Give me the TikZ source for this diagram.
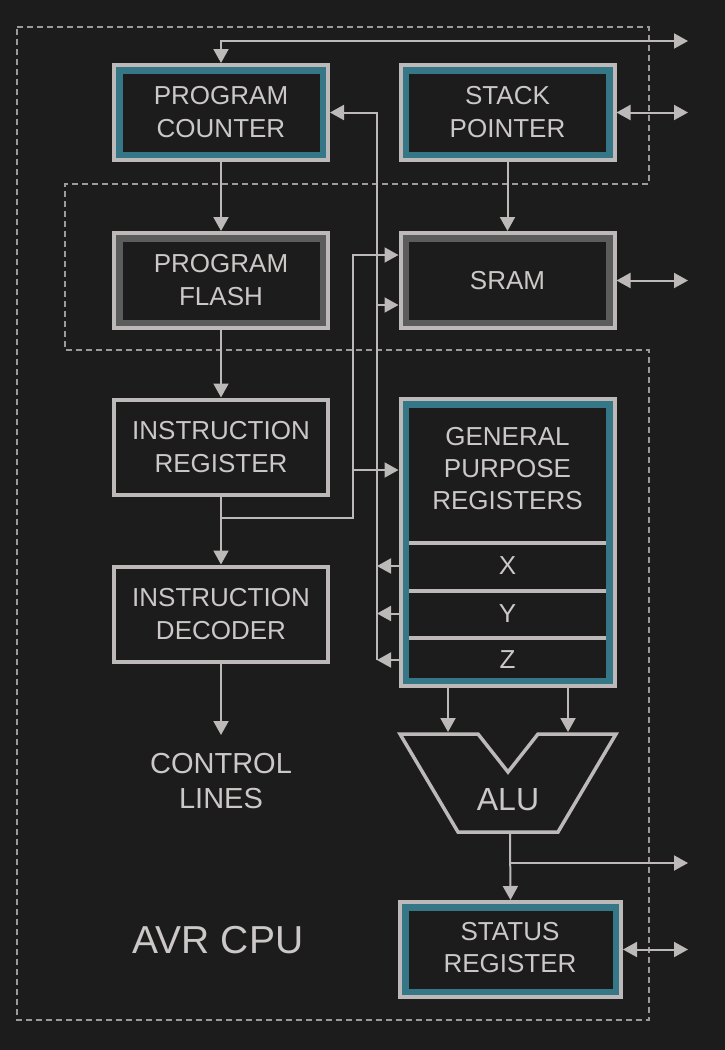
\documentclass[tikz,border=0pt]{standalone}
\usepackage{fontspec}
\setmainfont{Liberation Sans}
\usetikzlibrary{arrows.meta}
\definecolor{bg}{HTML}{1C1C1C}
\definecolor{lgray}{HTML}{BDB9B9}
\definecolor{label}{HTML}{CCC8C8}
\definecolor{regteal}{HTML}{357687}
\definecolor{memgray}{HTML}{5C5C5C}
\definecolor{framegray}{HTML}{9E9A9A}

\begin{document}
\begin{tikzpicture}[x=1pt, y=-1pt,
    box/.style={draw=lgray, line width=4pt, fill=bg, minimum width=214pt, minimum height=95pt,
        inner sep=0pt, text=label, align=center, font=\fontsize{26}{33}\selectfont},
    inset/.style={box, fill=#1, path picture={\fill[bg]
        ([shift={(8.5pt,-8.5pt)}]path picture bounding box.north west) rectangle
        ([shift={(-8.5pt,8.5pt)}]path picture bounding box.south east);}},
    lbl/.style={text=label, align=center, inner sep=0pt, font=\fontsize{26}{32}\selectfont},
    wire/.style={draw=lgray, line width=2pt},
    arr/.style={wire, -{Triangle[length=14pt,width=15pt]}},
    biarr/.style={wire, {Triangle[length=14pt,width=15pt]}-{Triangle[length=14pt,width=15pt]}},
    cpuframe/.style={draw=framegray, line width=1.8pt, dash pattern=on 6pt off 4pt}]

    \fill[bg] (0,0) rectangle (725,1050);

    % CPU and memory frame
    \draw[cpuframe] (17,27) -- (649,27) -- (649,184) -- (65,184) -- (65,350) -- (649,350)
        -- (649,1020) -- (17,1020) -- cycle;

    \node[inset=regteal] (pc) at (221,112.5) {PROGRAM\\COUNTER};
    \node[inset=regteal] (sp) at (507.5,112.5) {STACK\\POINTER};
    \node[inset=memgray] (pf) at (221,280.5) {PROGRAM\\FLASH};
    \node[inset=memgray] (sram) at (507.5,280.5) {SRAM};
    \node[box] (ir) at (221,447) {INSTRUCTION\\REGISTER};
    \node[box] (id) at (221,614) {INSTRUCTION\\DECODER};
    \node[inset=regteal, minimum height=287pt] (gpr) at (507.5,542.5) {};
    \node[inset=regteal, minimum width=221pt] (sr) at (510.5,949.5) {};

    % register file
    \foreach \yy in {543,591,638}
        \draw[lgray, line width=4pt] (409,\yy) -- (606,\yy);
    \node[lbl] (gprlbl) at (507.5,469) {GENERAL\\PURPOSE\\REGISTERS};
    \node[lbl] (xreg) at (507.5,566) {X};
    \node[lbl] (yreg) at (507.5,613.5) {Y};
    \node[lbl] (zreg) at (507.5,660) {Z};
    \node[lbl] (srlbl) at (510,947.5) {STATUS\\REGISTER};

    % ALU
    \draw[lgray, line width=3.5pt] (400,734) -- (478,734) -- (508,772) -- (538,734) -- (616,734)
        -- (558,832) -- (458,832) -- cycle;
    \node[lbl, font=\fontsize{32}{38}\selectfont] (alu) at (508,800) {ALU};

    \node[lbl, font=\fontsize{29}{35}\selectfont] (ctrl) at (221,781) {CONTROL\\LINES};
    \node[lbl, font=\fontsize{39}{47}\selectfont] (cpu) at (218,940) {AVR CPU};

    \coordinate (abus) at (377,0);
    \coordinate (dbus) at (353,0);
    \coordinate (outx) at (688,0);
    \coordinate (alul) at (448,732);
    \coordinate (alur) at (568,732);
    \coordinate (aluout) at (510,834);
    \coordinate (ctrlin) at (221,735);

    \draw[arr] (pc.south) -- (pf.north);
    \draw[arr] (pf.south) -- (ir.north);
    \draw[arr] (ir.south) -- (id.north);
    \draw[arr] (id.south) -- (ctrlin);
    \draw[arr] (sp.south) -- (sram.north);

    % address bus
    \draw[arr] (abus |- zreg) -- (abus |- pc.east) -- (pc.east);
    \draw[arr] (abus |- 0,305) -- (sram.west |- 0,305);
    \foreach \r in {xreg,yreg,zreg}
        \draw[arr] (gpr.west |- \r) -- (abus |- \r);

    % data bus
    \draw[arr] (ir.south |- 0,518) -- (dbus |- 0,518) -- (dbus |- 0,255) -- (sram.west |- 0,255);
    \draw[arr] (dbus |- 0,470) -- (gpr.west |- 0,470);

    % external ports
    \draw[biarr] (pc.north) |- (outx |- 0,41);
    \draw[biarr] (sp.east) -- (outx |- sp.east);
    \draw[biarr] (sram.east) -- (outx |- sram.east);
    \draw[biarr] (sr.east) -- (outx |- sr.east);

    \draw[arr] (gpr.south -| alul) -- (alul);
    \draw[arr] (gpr.south -| alur) -- (alur);
    \draw[arr] (aluout) -- (sr.north);
    \draw[arr] (aluout |- 0,863) -- (outx |- 0,863);
\end{tikzpicture}
\end{document}
